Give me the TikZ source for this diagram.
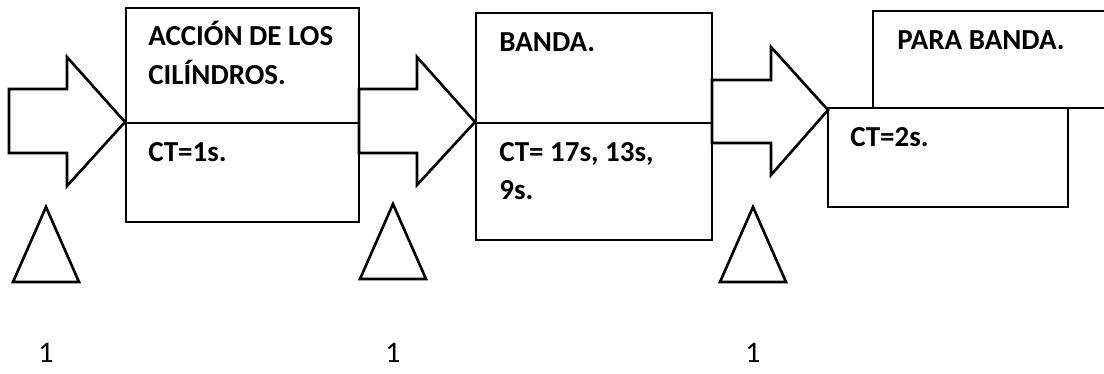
\documentclass[tikz,border=0pt]{standalone}
\usepackage{fontspec}
\setmainfont{Carlito}
\usetikzlibrary{fit}

\begin{document}
\begin{tikzpicture}[
    x=0.02cm, y=-0.02cm,
    line width=1.5pt,
    box/.style={
        draw=black,
        inner sep=0pt
    },
    label/.style={
        font=\bfseries\fontsize{16.5}{20}\selectfont,
        anchor=base west,
        inner sep=0pt
    },
    stock/.style={
        font=\fontsize{17}{20}\selectfont,
        anchor=base,
        inner sep=0pt
    }
]

% Frame
\useasboundingbox (0,0) rectangle (1104,374);
\clip (0,0) rectangle (1104,374);

% Station 1: cylinders
\node[box, fit={(126,8) (359,123)}] (cyltop) {};
\node[box, fit={(126,123) (359,222)}] (cylbot) {};
\node[label] (cylname1) at (147,46) {ACCIÓN DE LOS};
\node[label] (cylname2) at (147,85) {CILÍNDROS.};
\node[label] (cylct) at (147,162) {CT=1s.};

% Station 2: belt
\node[box, fit={(476,13) (712,123)}] (beltop) {};
\node[box, fit={(476,123) (712,240)}] (belbot) {};
\node[label] (belname) at (498,52) {BANDA.};
\node[label] (belct1) at (498,162) {CT= 17s, 13s,};
\node[label] (belct2) at (498,200) {9s.};

% Station 3: belt stop
\node[box, fit={(828,108) (1068,207)}] (stopbot) {};
\node[box, fit={(873,11) (1130,108)}] (stoptop) {};
\node[label] (stopname) at (896,50) {PARA BANDA.};
\node[label] (stopct) at (849,147) {CT=2s.};

% Push arrows
\foreach \xa/\xb/\xc/\yt/\yb/\ht/\hb/\ym in {
    9/67/125/89/153/57/186/122,
    359/417/475/89/153/57/185/122,
    712/771/828/80/143/47/175/110}
  \draw (\xa,\yt) -- (\xb,\yt) -- (\xb,\ht) -- (\xc,\ym)
        -- (\xb,\hb) -- (\xb,\yb) -- (\xa,\yb) -- cycle;

% Inventory triangles
\foreach \i/\x/\y in {1/46/207, 2/393/204, 3/753/207} {
  \draw (\x,\y) -- (\x+33,\y+75) -- (\x-33,\y+75) -- cycle;
  \node[stock] (inv\i) at (\x,362) {1};
}

\end{tikzpicture}
\end{document}
